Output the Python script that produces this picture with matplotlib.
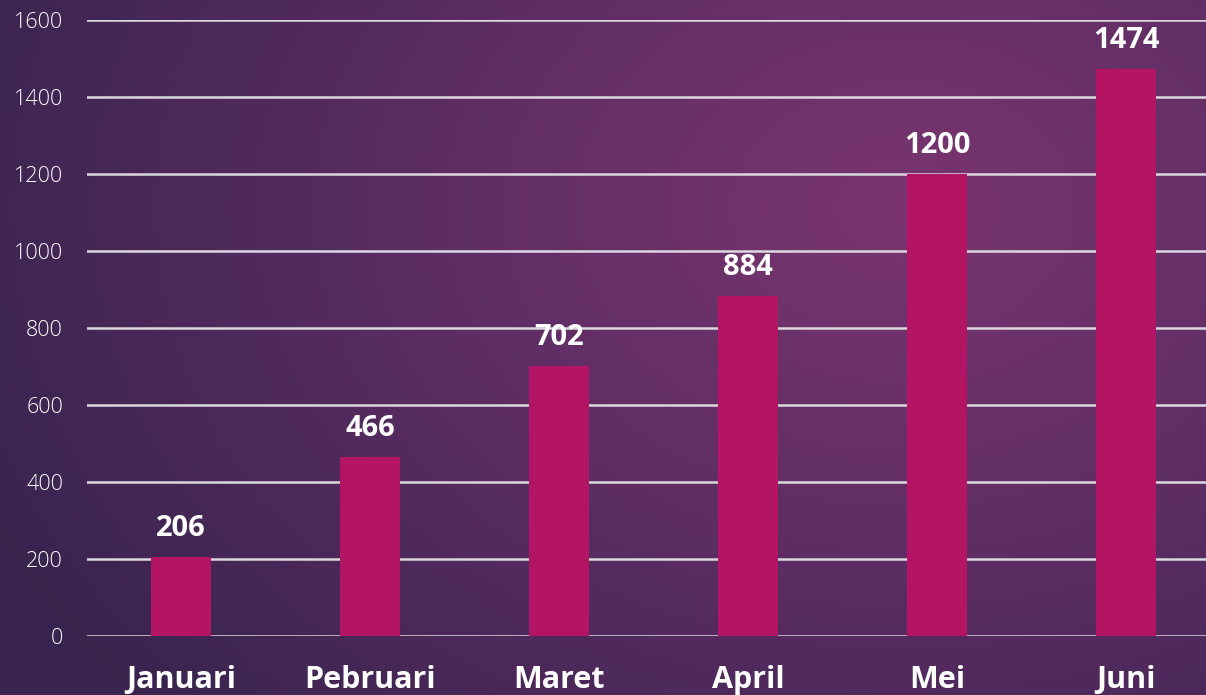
import numpy as np
import matplotlib
matplotlib.use("Agg")
import matplotlib.pyplot as plt
from matplotlib.colors import LinearSegmentedColormap

months = ["Januari", "Pebruari", "Maret", "April", "Mei", "Juni"]
values = [206, 466, 702, 884, 1200, 1474]
yticks = [0, 200, 400, 600, 800, 1000, 1200, 1400, 1600]

W, H = 1206, 695
fig = plt.figure(figsize=(W / 100, H / 100), dpi=100)

# background gradient
bg = fig.add_axes([0, 0, 1, 1])
xx, yy = np.meshgrid(np.linspace(0, 1, 300), np.linspace(0, 1, 200))
d = np.sqrt(((xx - 0.75) / 0.85) ** 2 + ((yy - 0.3) / 1.1) ** 2)
t = np.clip(1 - d, 0, 1)
cmap = LinearSegmentedColormap.from_list("bg", ["#38244e", "#5a2c62", "#7a3570"])
bg.imshow(t, cmap=cmap, aspect="auto", extent=[0, 1, 1, 0], interpolation="bilinear")
bg.axis("off")

left = 86.5 / W
right = 1220.5 / W
bottom = 1 - 636 / H
top = 1 - 20 / H
ax = fig.add_axes([left, bottom, right - left, top - bottom])
ax.patch.set_alpha(0)

x = np.arange(len(months))
bars = ax.bar(x, values, width=0.315, color="#b31564", zorder=3)
ax.set_xlim(-0.5, len(months) - 0.5)
ax.set_ylim(0, 1600)
ax.set_yticks(yticks)
ax.set_yticklabels([str(v) for v in yticks])
ax.grid(axis="y", color="#dcd8e0", linewidth=1.8, zorder=1)
ax.set_axisbelow(True)
for s in ax.spines.values():
    s.set_visible(False)
ax.tick_params(axis="y", length=0, pad=17, labelsize=15.5, labelcolor="white")
ax.tick_params(axis="x", length=0, pad=21, labelcolor="white")
ax.set_xticks(x)
ax.set_xticklabels(months, fontsize=22, fontweight="bold", family="Open Sans")
for lab in ax.get_yticklabels():
    lab.set_family("Open Sans")
    lab.set_fontweight("light")

for xi, v in zip(x, values):
    ax.annotate(str(v), (xi, v), xytext=(0, 10), textcoords="offset points",
                ha="center", va="bottom", color="white", fontsize=21,
                fontweight="bold", family="Open Sans")

fig.savefig("out.png", dpi=100)
